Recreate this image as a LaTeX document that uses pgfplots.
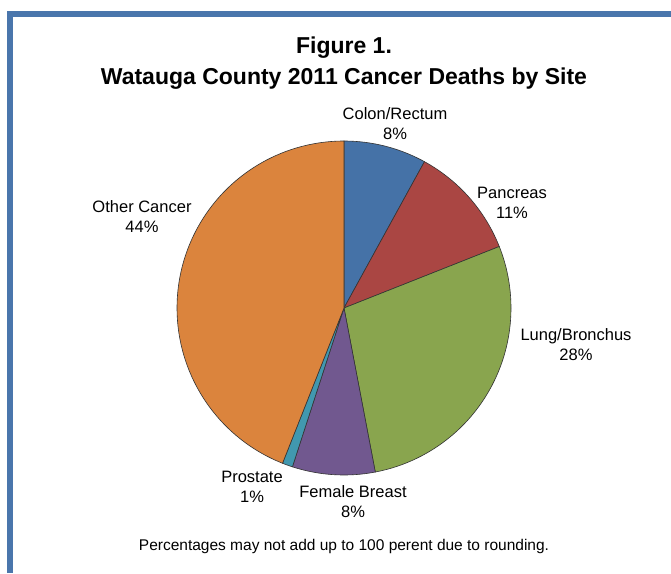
\documentclass[border=0pt]{standalone}
\usepackage{pgfplots}
\pgfplotsset{compat=1.18}
\usepackage{fontspec}
\setmainfont{Liberation Sans}
\definecolor{cColon}{HTML}{4572A7}
\definecolor{cPanc}{HTML}{AA4643}
\definecolor{cLung}{HTML}{89A54E}
\definecolor{cBreast}{HTML}{71588F}
\definecolor{cPros}{HTML}{4198AF}
\definecolor{cOther}{HTML}{DB843D}
\definecolor{frame}{HTML}{4A76AC}
% percentages (clockwise from 12 o'clock)
\def\pColon{8}
\def\pPanc{11}
\def\pLung{28}
\def\pBreast{8}
\def\pPros{1}
\def\pOther{44}
\pgfmathsetmacro{\aA}{90}
\pgfmathsetmacro{\aB}{\aA-3.6*\pColon}
\pgfmathsetmacro{\aC}{\aB-3.6*\pPanc}
\pgfmathsetmacro{\aD}{\aC-3.6*\pLung}
\pgfmathsetmacro{\aE}{\aD-3.6*\pBreast}
\pgfmathsetmacro{\aF}{\aE-3.6*\pPros}
\pgfmathsetmacro{\aG}{\aF-3.6*\pOther}
\begin{document}
\begin{tikzpicture}[x=1pt,y=1pt]
\path[use as bounding box] (0,0) rectangle (671,573);
\fill[white] (0,0) rectangle (671,573);
% frame
\fill[frame] (7,573-11) rectangle (671,573-17);
\fill[frame] (7,573-11) rectangle (13,0);
% titles
\node[font=\fontsize{23}{27}\selectfont\bfseries] at (344,573-48) {Figure 1.};
\node[font=\fontsize{23}{27}\selectfont\bfseries] at (344,573-79) {Watauga County 2011 Cancer Deaths by Site};
\coordinate (pc) at (344,265);
\begin{axis}[hide axis, x=167pt, y=167pt, xmin=-1.1, xmax=1.1, ymin=-1.1, ymax=1.1,
  anchor=center, at={(pc)}, clip=false]
\addplot[fill=cColon, draw=black!80, line width=0.6pt, domain=\aB:\aA, samples=40] ({cos(x)},{sin(x)}) -- (0,0) -- cycle;
\addplot[fill=cPanc, draw=black!80, line width=0.6pt, domain=\aC:\aB, samples=40] ({cos(x)},{sin(x)}) -- (0,0) -- cycle;
\addplot[fill=cLung, draw=black!80, line width=0.6pt, domain=\aD:\aC, samples=80] ({cos(x)},{sin(x)}) -- (0,0) -- cycle;
\addplot[fill=cBreast, draw=black!80, line width=0.6pt, domain=\aE:\aD, samples=40] ({cos(x)},{sin(x)}) -- (0,0) -- cycle;
\addplot[fill=cPros, draw=black!80, line width=0.6pt, domain=\aF:\aE, samples=10] ({cos(x)},{sin(x)}) -- (0,0) -- cycle;
\addplot[fill=cOther, draw=black!80, line width=0.6pt, domain=\aG:\aF, samples=120] ({cos(x)},{sin(x)}) -- (0,0) -- cycle;
\end{axis}
% labels
\tikzset{lab/.style={font=\fontsize{16.5}{20}\selectfont, align=center, inner sep=0pt}}
\node[lab] at (395,573-124) {Colon/Rectum\\8\%};
\node[lab] at (512,573-203) {Pancreas\\11\%};
\node[lab] at (576,573-345) {Lung/Bronchus\\28\%};
\node[lab] at (142,573-217) {Other Cancer\\44\%};
\node[lab] at (252,573-487) {Prostate\\1\%};
\node[lab] at (353,573-502) {Female Breast\\8\%};
\node[font=\fontsize{15.5}{18}\selectfont] at (344,573-546) {Percentages may not add up to 100 perent due to rounding.};
\end{tikzpicture}
\end{document}
